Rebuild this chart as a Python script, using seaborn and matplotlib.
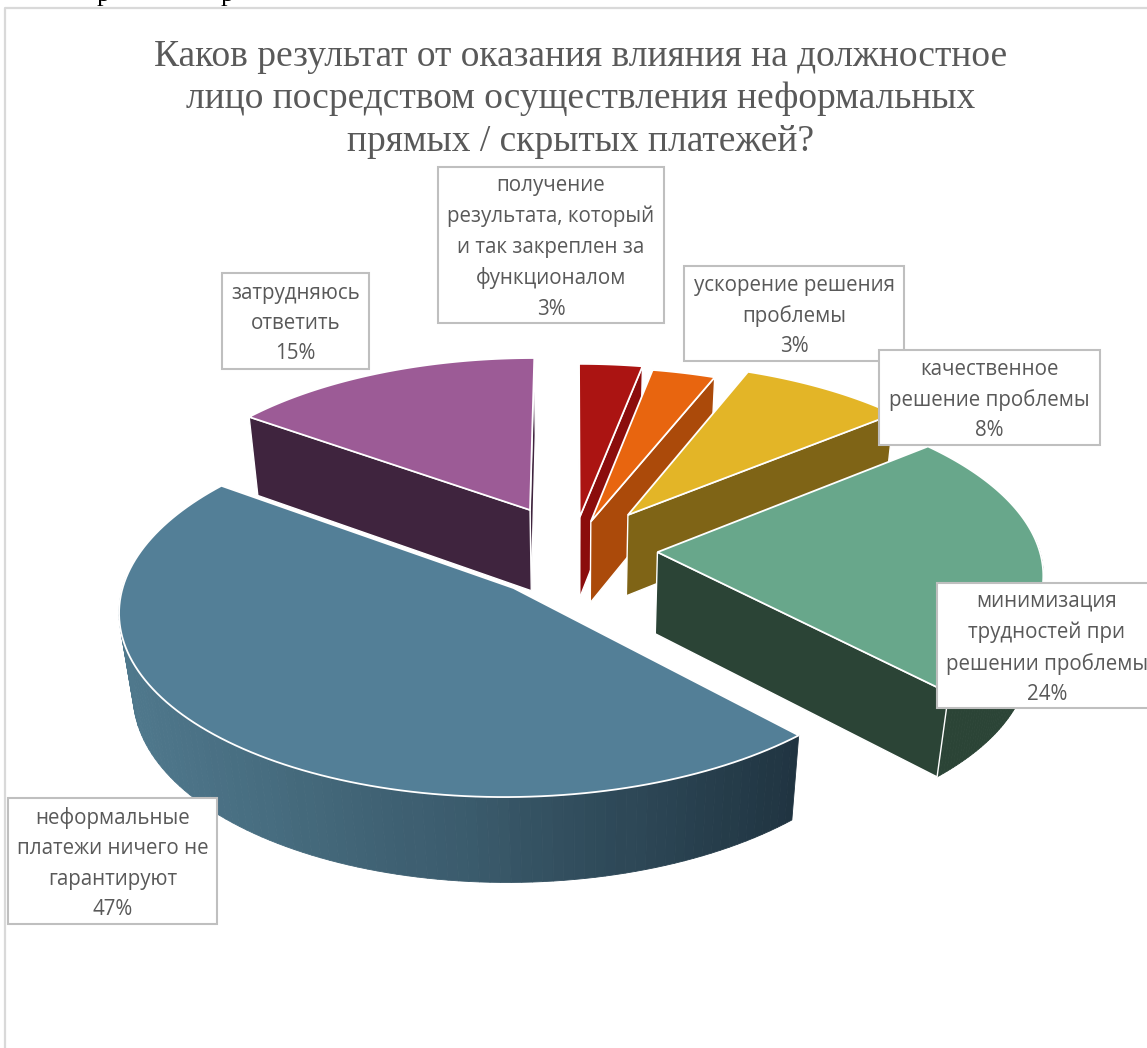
# plot.py
# exploded 3d looking pie, angles come from ax.pie and get projected by hand
import numpy as np
import matplotlib
matplotlib.use("Agg")
import matplotlib.pyplot as plt
from matplotlib.patches import Rectangle
import seaborn as sns

TITLE = "Каков результат от оказания влияния на должностное\nлицо посредством осуществления неформальных\nпрямых / скрытых платежей?"

# clockwise from 12 o'clock
categories = [
    "получение\nрезультата, который\nи так закреплен за\nфункционалом",
    "ускорение решения\nпроблемы",
    "качественное\nрешение проблемы",
    "минимизация\nтрудностей при\nрешении проблемы",
    "неформальные\nплатежи ничего не\nгарантируют",
    "затрудняюсь\nответить",
]
values = [3, 3, 8, 24, 47, 15]
explode = [0.19, 0.17, 0.25, 0.195, 0.28, 0.26]

top_colors = ["#ab1412", "#e8650f", "#e3b527", "#68a78b", "#537f97", "#9c5b96"]
wall_colors = ["#8b0d0c", "#ab4a0a", "#7f6416", "#2b4436", "#3a5a6b", "#3f243e"]

# label boxes: left, top, right, bottom in pixels
label_boxes = [
    (438, 167, 664, 323),
    (684, 266, 904, 361),
    (879, 350, 1100, 445),
    (937, 583, 1157, 708),
    (8, 798, 217, 924),
    (222, 273, 369, 369),
]
# sideways pixel nudge per slice, the original is not quite on its bisector
nudge = [-8, -8, -8, 2, 5, -7]
# back slices first
draw_order = [5, 0, 1, 2, 3, 4]

# fake camera
CX, CY = 581, 550
R, RS = 382, 177
P, Q = 0.11, 0.03
DEPTH = 84


def project(u, v, z=0.0, dx=0):
    w = 1 + P * np.asarray(v) + Q * z
    x = CX + dx + R * np.asarray(u) / w
    y = CY - RS * np.asarray(v) / w + DEPTH * z / w
    return x, y


def quad(ax, u, v, color, dx=0, **kw):
    # u, v run along the top edge, the wall hangs down from it
    xt, yt = project(u, v, 0, dx)
    xb, yb = project(u, v, 1, dx)
    ax.fill(np.r_[xt, xb[::-1]], np.r_[yt, yb[::-1]], color=color, **kw)


def draw_slice(ax, wedge, top, wall, dx=0, gradient=None):
    cu, cv = wedge.center
    ang = np.radians(np.linspace(wedge.theta1, wedge.theta2, 120))
    u = cu + wedge.r * np.cos(ang)
    v = cv + wedge.r * np.sin(ang)

    # outer rim, only the part that faces us
    front = np.where(np.sin(ang) < 0.08)[0]
    for i in front[:-1]:
        color = wall
        if gradient is not None:
            xm = project(u[i], v[i], 0, dx)[0]
            color = gradient[int(np.clip((xm - 120) / 680, 0, 1) * (len(gradient) - 1))]
        quad(ax, u[i:i + 2], v[i:i + 2], color, dx, edgecolor=color, linewidth=0.6)

    # cut faces, skip the ones turned away from the viewer
    wall_edge = dict(edgecolor="white", linewidth=1.0)
    if np.sin(ang[0] - np.pi / 2) < 0:
        quad(ax, np.array([cu, u[0]]), np.array([cv, v[0]]), wall, dx, **wall_edge)
    if np.sin(ang[-1] + np.pi / 2) < 0:
        quad(ax, np.array([cu, u[-1]]), np.array([cv, v[-1]]), wall, dx, **wall_edge)

    xt, yt = project(np.r_[cu, u], np.r_[cv, v], 0, dx)
    ax.fill(xt, yt, color=top, edgecolor="white", linewidth=1.3)


def main():
    sns.set_theme(style="white")
    fig = plt.figure(figsize=(11.47, 10.48), dpi=100, facecolor="white")
    ax = fig.add_axes([0, 0, 1, 1])

    wedges, _ = ax.pie(values, explode=explode, startangle=90, counterclock=False)
    for w in wedges:
        w.set_visible(False)
    ax.set_aspect("auto")
    ax.set_xlim(0, 1147)
    ax.set_ylim(1048, 0)
    ax.axis("off")

    # chart frame
    ax.plot([5, 5, 1147], [1048, 8, 8], color="#d9d9d9", lw=1.6)

    # bits of the page text above the chart
    for x in (103, 227):
        ax.text(x, 1, "р", family="Liberation Serif", fontsize=19, color="black",
                ha="center", va="baseline", clip_on=False)

    ax.text(581, 99, TITLE, family="Liberation Serif", fontsize=27, color="#595959",
            ha="center", va="center", linespacing=1.31)

    gradient = sns.blend_palette(["#4f788c", "#3a5a6b", "#1f3340"], n_colors=64)
    for i in draw_order:
        draw_slice(ax, wedges[i], top_colors[i], wall_colors[i], nudge[i],
                   gradient if i == 4 else None)

    for name, val, (x0, y0, x1, y1) in zip(categories, values, label_boxes):
        ax.add_patch(Rectangle((x0, y0), x1 - x0, y1 - y0, facecolor="white",
                               edgecolor="#bfbfbf", linewidth=1.5, zorder=5))
        ax.text((x0 + x1) / 2, (y0 + y1) / 2 + 2.5, f"{name}\n{val}%", family="Open Sans",
                fontsize=14.8, color="#595959", ha="center", va="center",
                linespacing=1.58, zorder=6, clip_on=True)

    fig.savefig("out.png", dpi=100)


if __name__ == "__main__":
    main()
